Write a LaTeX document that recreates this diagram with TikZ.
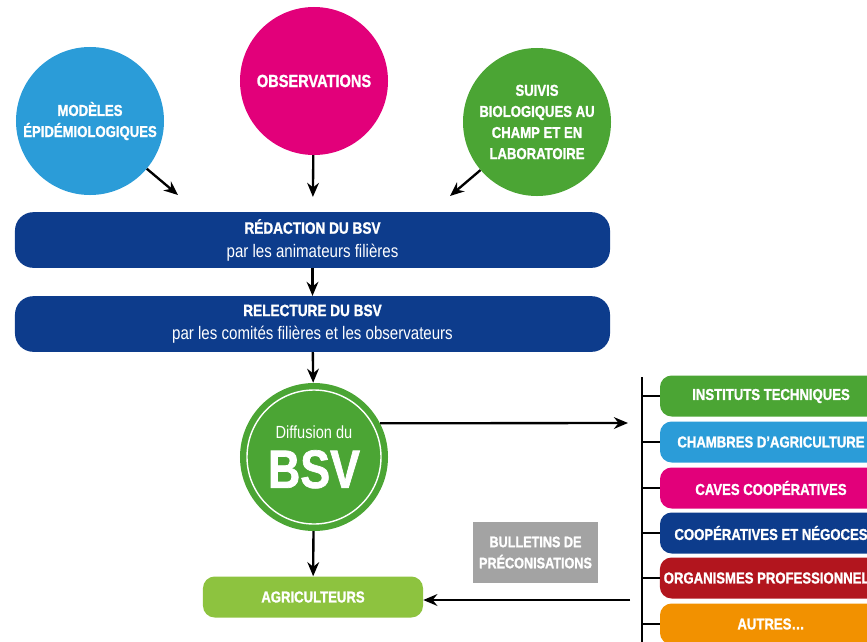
\documentclass[tikz,border=0pt]{standalone}
\usepackage{fontspec}
\setmainfont{Liberation Sans}[FakeStretch=0.83,BoldFeatures={FakeBold=1.3}]
\usetikzlibrary{arrows.meta}

\definecolor{bleuciel}{HTML}{2B9CD8}
\definecolor{magenta}{HTML}{E2007A}
\definecolor{vert}{HTML}{4BA534}
\definecolor{bleufonce}{HTML}{0D3C8C}
\definecolor{vertclair}{HTML}{8DC33F}
\definecolor{gris}{HTML}{A3A3A3}
\definecolor{rouge}{HTML}{B2151E}
\definecolor{orange}{HTML}{F29100}

\newcommand{\titrebandeau}[1]{{\bfseries\fontsize{14}{19}\selectfont #1}}

\begin{document}
\begin{tikzpicture}[x=0.03cm,y=-0.03cm,
  rond/.style={circle,minimum size=4.44cm,inner sep=0pt,text=white,align=center,font=\bfseries\fontsize{13.5}{18}\selectfont},
  bandeau/.style={rectangle,rounded corners=0.55cm,fill=bleufonce,minimum width=17.85cm,minimum height=1.67cm,text=white,align=center,font=\fontsize{15.5}{20}\selectfont},
  etiquette/.style={rectangle,rounded corners=0.35cm,minimum width=6.66cm,minimum height=1.23cm,text=white,font=\bfseries\fontsize{13.5}{16}\selectfont},
  trait/.style={line width=2pt},
  fleche/.style={-{Stealth[length=12pt,width=10pt]},line width=2pt}]
\useasboundingbox (0,0) rectangle (867,641);

% les trois sources
\node[rond,fill=bleuciel] (modeles) at (90,121) {MOD\`ELES\\\'EPID\'EMIOLOGIQUES};
\node[rond,fill=magenta,font=\bfseries\fontsize{15}{18}\selectfont] (obs) at (314,81) {OBSERVATIONS};
\node[rond,fill=vert] (suivis) at (537,122) {SUIVIS\\BIOLOGIQUES AU\\CHAMP ET EN\\LABORATOIRE};

% redaction et relecture
\node[bandeau] (redac) at (312.5,240) {\titrebandeau{R\'EDACTION DU BSV}\\par les animateurs fili\`eres};
\node[bandeau] (relec) at (312.5,324) {\titrebandeau{RELECTURE DU BSV}\\par les comit\'es fili\`eres et les observateurs};

\coordinate (m1) at (178,195);
\coordinate (s1) at (450,196);
\draw[fleche] (modeles) -- (m1);
\draw[fleche,shorten >=0.45cm] (obs) -- (redac);
\draw[fleche] (suivis) -- (s1);
\draw[fleche] (redac) -- (relec);

% diffusion
\node[rond,fill=vert,font=\fontsize{15}{15}\selectfont] (diff) at (314,457) {Diffusion du\\[9pt]{\bfseries\fontsize{46}{40}\selectfont BSV}};
\draw[white,line width=1.2pt] (diff.center) circle (2.01cm);
\draw[fleche] (relec) -- (diff);

\node[rectangle,rounded corners=0.35cm,fill=vertclair,minimum width=6.6cm,minimum height=1.23cm,text=white,font=\bfseries\fontsize{13.5}{16}\selectfont] (agri) at (313,597) {AGRICULTEURS};
\draw[fleche] (diff) -- (agri);

\node[fill=gris,minimum width=3.75cm,minimum height=1.83cm,text=white,align=center,font=\bfseries\fontsize{13}{18}\selectfont] (bulletins) at (535.5,552.5) {BULLETINS DE\\PR\'ECONISATIONS};

% les relais
\node[etiquette,fill=vert] (instituts) at (771,396) {INSTITUTS TECHNIQUES};
\node[etiquette,fill=bleuciel] (chambres) at (771,442) {CHAMBRES D'AGRICULTURE};
\node[etiquette,fill=magenta] (caves) at (771,488) {CAVES COOP\'ERATIVES};
\node[etiquette,fill=bleufonce] (coop) at (771,533) {COOP\'ERATIVES ET N\'EGOCES};
\node[etiquette,fill=rouge] (orga) at (771,578) {ORGANISMES PROFESSIONNELS};
\node[etiquette,fill=orange] (autres) at (771,624) {AUTRES\dots};

\coordinate (barreh) at (642,377);
\coordinate (barreb) at (642,650);
\draw[trait] (barreh) -- (barreb);
\draw[trait] (instituts.west) -- (instituts.west -| barreh);
\draw[trait] (chambres.west) -- (chambres.west -| barreh);
\draw[trait] (caves.west) -- (caves.west -| barreh);
\draw[trait] (coop.west) -- (coop.west -| barreh);
\draw[trait] (orga.west) -- (orga.west -| barreh);
\draw[trait] (autres.west) -- (autres.west -| barreh);

\coordinate (d1) at (628,423);
\coordinate (a1) at (630,600);
\draw[fleche] (diff.27) -- (d1);
\draw[fleche] (a1) -- (agri.east |- a1);
\end{tikzpicture}
\end{document}
